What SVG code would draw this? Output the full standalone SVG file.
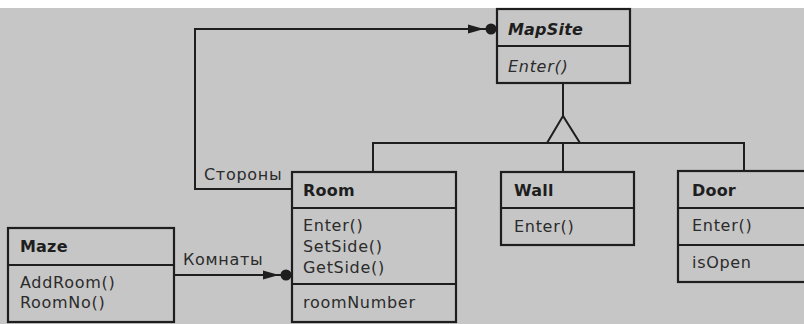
<svg xmlns="http://www.w3.org/2000/svg" width="804" height="324" viewBox="0 0 804 324">
<defs>
<style>
.bg{fill:#c6c6c6}
.box{fill:none;stroke:#1e1e1e;stroke-width:2.2}
.ln{fill:none;stroke:#1e1e1e;stroke-width:2}
.t{font-family:"DejaVu Sans","Liberation Sans",Arial,sans-serif;font-size:16px;letter-spacing:0.7px;fill:#2b2b2b}
.b{font-weight:bold;fill:#1e1e1e;letter-spacing:0.2px}
.i{font-style:italic}
</style>
<marker id="agg" viewBox="0 0 30 12" refX="29" refY="6" markerWidth="30" markerHeight="12" markerUnits="userSpaceOnUse" orient="auto">
<path d="M0,1.5 L16,6 L0,10.5 Z" fill="#1e1e1e"/>
<circle cx="23" cy="6" r="5.5" fill="#1e1e1e"/>
</marker>
</defs>
<rect class="bg" x="0" y="8" width="804" height="316"/>
<rect x="0" y="0" width="804" height="8" fill="#ffffff"/>
<g id="connectors">
<polyline class="ln" points="292,189 195,189 195,29 497,29" marker-end="url(#agg)"/>
<line class="ln" x1="174" y1="275" x2="292" y2="275" marker-end="url(#agg)"/>
<line class="ln" x1="563" y1="83" x2="563" y2="116"/>
<path class="ln" d="M563,116 L547,143 L580,143 Z"/>
<polyline class="ln" points="373,172 373,143 744,143 744,172"/>
<line class="ln" x1="563" y1="143" x2="563" y2="172"/>
<text class="t" x="204" y="180">Стороны</text>
<text class="t" x="183" y="265">Комнаты</text>
</g>
<g id="MapSite">
<rect class="box" x="497" y="9" width="133" height="74"/>
<line class="box" x1="497" y1="46" x2="630" y2="46"/>
<text class="t b i" x="508" y="35">MapSite</text>
<text class="t i" x="508" y="72">Enter()</text>
</g>
<g id="Room">
<rect class="box" x="292" y="172" width="164" height="150"/>
<line class="box" x1="292" y1="208" x2="456" y2="208"/>
<line class="box" x1="292" y1="284" x2="456" y2="284"/>
<text class="t b" x="303" y="196">Room</text>
<text class="t" x="303" y="231">Enter()</text>
<text class="t" x="303" y="252">SetSide()</text>
<text class="t" x="303" y="273">GetSide()</text>
<text class="t" x="303" y="308">roomNumber</text>
</g>
<g id="Wall">
<rect class="box" x="501" y="172" width="133" height="73"/>
<line class="box" x1="501" y1="208" x2="634" y2="208"/>
<text class="t b" x="514" y="196">Wall</text>
<text class="t" x="514" y="232">Enter()</text>
</g>
<g id="Door">
<rect class="box" x="678" y="171" width="140" height="111"/>
<line class="box" x1="678" y1="208" x2="818" y2="208"/>
<line class="box" x1="678" y1="245" x2="818" y2="245"/>
<text class="t b" x="692" y="196">Door</text>
<text class="t" x="692" y="231">Enter()</text>
<text class="t" x="692" y="268">isOpen</text>
</g>
<g id="Maze">
<rect class="box" x="8" y="228" width="166" height="94"/>
<line class="box" x1="8" y1="265" x2="174" y2="265"/>
<text class="t b" x="20" y="252">Maze</text>
<text class="t" x="20" y="288">AddRoom()</text>
<text class="t" x="20" y="308">RoomNo()</text>
</g>
</svg>
